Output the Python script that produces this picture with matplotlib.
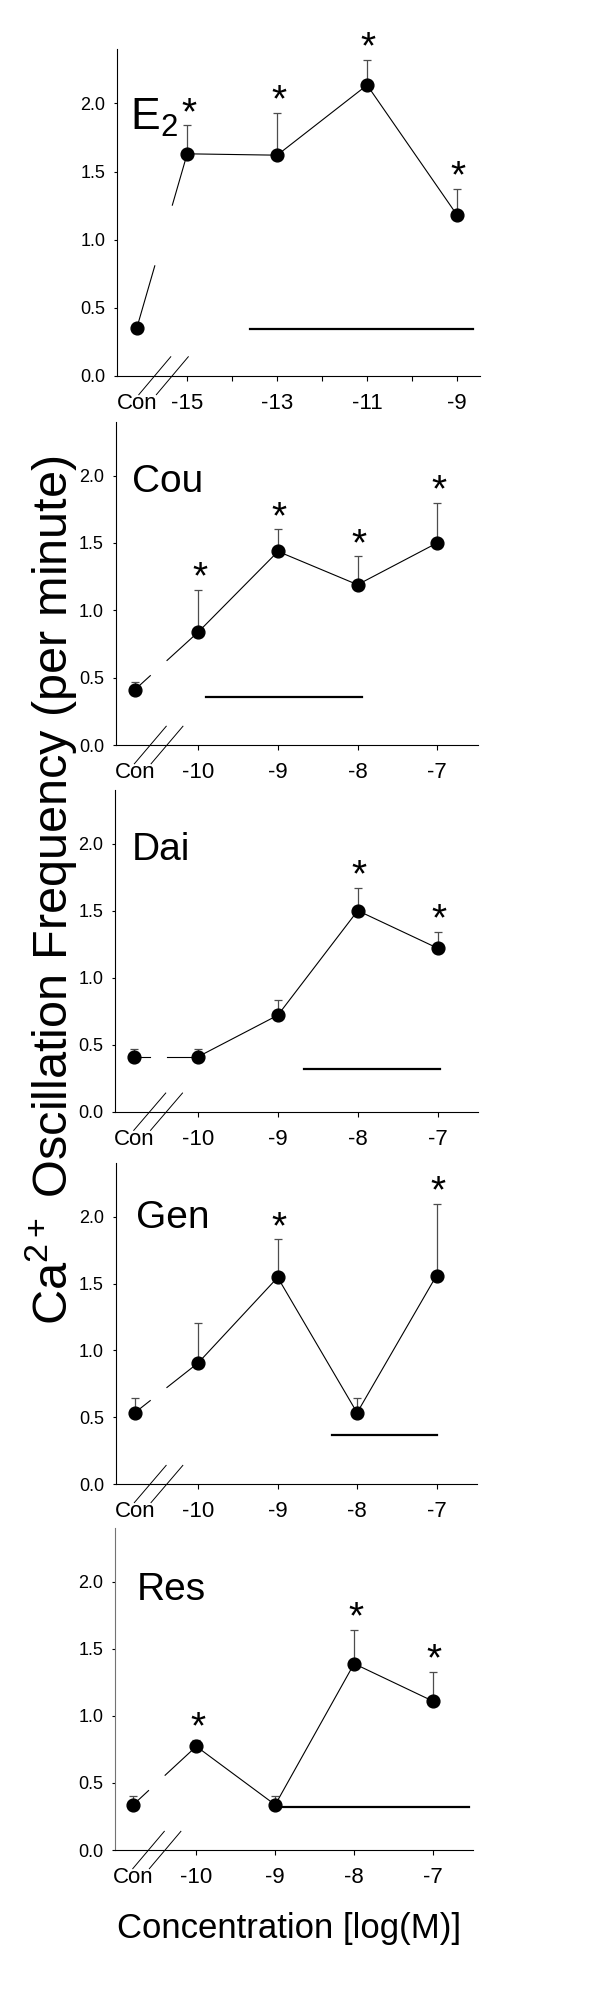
import numpy as np
import matplotlib
matplotlib.use("Agg")
import matplotlib.pyplot as plt

plt.rcParams['font.family'] = ['Liberation Sans', 'DejaVu Sans']
plt.rcParams['mathtext.fontset'] = 'custom'
plt.rcParams['mathtext.rm'] = 'Liberation Sans'
plt.rcParams['mathtext.it'] = 'Liberation Sans'
plt.rcParams['mathtext.default'] = 'regular'

# data (log M concentrations, mean and upper SEM)
names = ["E$_2$", "Cou", "Dai", "Gen", "Res"]

e2_conc = [-15, -13, -11, -9]
phyto_conc = [-10, -9, -8, -7]

e2_mean = [0.35, 1.63, 1.62, 2.135, 1.18]
e2_sem = [0.02, 0.21, 0.31, 0.185, 0.195]
e2_sig = [False, True, True, True, True]

cou_mean = [0.41, 0.84, 1.437, 1.19, 1.50]
cou_sem = [0.06, 0.31, 0.163, 0.21, 0.30]
cou_sig = [False, True, True, True, True]

dai_mean = [0.41, 0.41, 0.72, 1.50, 1.22]
dai_sem = [0.06, 0.06, 0.115, 0.17, 0.12]
dai_sig = [False, False, False, True, True]

gen_mean = [0.533, 0.907, 1.546, 0.533, 1.56]
gen_sem = [0.112, 0.30, 0.284, 0.112, 0.534]
gen_sig = [False, False, True, False, True]

res_mean = [0.337, 0.773, 0.337, 1.39, 1.11]
res_sem = [0.063, 0.047, 0.063, 0.25, 0.22]
res_sig = [False, True, False, True, True]

# horizontal reference bars (y, x start, x end)
e2_bar = (0.34, -13.61, -8.64)
cou_bar = (0.36, -9.9, -7.94)
dai_bar = (0.316, -8.67, -6.97)
gen_bar = (0.367, -8.31, -7.0)
res_bar = (0.324, -9.0, -6.54)

panels = [
    dict(name=names[0], conc=e2_conc, con=-16.12, mean=e2_mean, sem=e2_sem, sig=e2_sig, bar=e2_bar,
         xlim=(-16.56, -8.49), brk=(-15.72, -15.33), ticks=list(range(-15, -8)),
         box=(117, 480, 49, 375.7), lab=(0.035, 0.752), labsize=32, spine='black'),
    dict(name=names[1], conc=phyto_conc, con=-10.8, mean=cou_mean, sem=cou_sem, sig=cou_sig, bar=cou_bar,
         xlim=(-11.04, -6.49), brk=(-10.605, -10.395), ticks=phyto_conc,
         box=(115.7, 477.7, 421.7, 745), lab=(0.045, 0.783), labsize=28, spine='black'),
    dict(name=names[2], conc=phyto_conc, con=-10.8, mean=dai_mean, sem=dai_sem, sig=dai_sig, bar=dai_bar,
         xlim=(-11.04, -6.49), brk=(-10.605, -10.395), ticks=phyto_conc,
         box=(115, 478.3, 790, 1111.7), lab=(0.045, 0.782), labsize=28, spine='black'),
    dict(name=names[3], conc=phyto_conc, con=-10.8, mean=gen_mean, sem=gen_sem, sig=gen_sig, bar=gen_bar,
         xlim=(-11.04, -6.49), brk=(-10.605, -10.395), ticks=phyto_conc,
         box=(115.7, 477, 1163.3, 1484), lab=(0.055, 0.797), labsize=28, spine='black'),
    dict(name=names[4], conc=phyto_conc, con=-10.8, mean=res_mean, sem=res_sem, sig=res_sig, bar=res_bar,
         xlim=(-11.03, -6.49), brk=(-10.605, -10.395), ticks=phyto_conc,
         box=(115, 473.3, 1528.3, 1850), lab=(0.062, 0.777), labsize=28, spine='0.45'),
]

W, H = 600, 2001
fig = plt.figure(figsize=(W / 100, H / 100), dpi=100)

for p in panels:
    l, r, t, b = p['box']
    ax = fig.add_axes([l / W, 1 - b / H, (r - l) / W, (b - t) / H])
    x = np.array([p['con']] + list(p['conc']), dtype=float)
    y = np.array(p['mean'])
    sem = np.array(p['sem'])

    # error bars (upper only)
    ax.errorbar(x, y, yerr=[np.zeros_like(sem), sem], fmt='none', ecolor='0.3',
                elinewidth=0.9, capsize=2.8, capthick=0.9, zorder=2)

    # connecting line, broken between control and first dose
    b1, b2 = p['brk']
    y_b1 = np.interp(b1, x[:2], y[:2])
    y_b2 = np.interp(b2, x[:2], y[:2])
    ax.plot([x[0], b1], [y[0], y_b1], color='black', lw=0.8, zorder=3)
    ax.plot([b2, x[1]], [y_b2, y[1]], color='black', lw=0.8, zorder=3)
    ax.plot(x[1:], y[1:], color='black', lw=0.8, zorder=3)
    ax.plot(x, y, 'o', color='black', ms=9.2, zorder=4)

    # significance stars
    for xi, yi, si, sg in zip(x, y, sem, p['sig']):
        if sg:
            ax.annotate('*', (xi, yi + si), xytext=(1, 1), textcoords='offset points',
                        ha='center', va='baseline', fontsize=28, annotation_clip=False)

    # reference bar
    yb, xb0, xb1 = p['bar']
    ax.plot([xb0, xb1], [yb, yb], color='black', lw=1.6, zorder=3)

    # axis-break marks
    x0, x1 = p['xlim']
    for xb in (b1, b2):
        f = (xb - x0) / (x1 - x0)
        ax.plot([f - 0.044, f + 0.044], [-0.058, 0.058], transform=ax.transAxes,
                color='black', lw=0.7, clip_on=False)

    ax.set_xlim(x0, x1)
    ax.set_ylim(0, 2.4)
    ax.set_yticks([0, 0.5, 1.0, 1.5, 2.0])
    ax.set_yticklabels(['0.0', '0.5', '1.0', '1.5', '2.0'])
    xt = [p['con']] + p['ticks']
    xl = ['Con'] + [str(v) if v in p['conc'] else '' for v in p['ticks']]
    ax.set_xticks(xt)
    ax.set_xticklabels(xl)
    ax.xaxis.get_major_ticks()[0].tick1line.set_visible(False)
    ax.tick_params(axis='y', direction='out', length=2.5, width=0.8, labelsize=13, pad=6)
    ax.tick_params(axis='x', direction='out', length=3.5, width=0.8, labelsize=16, pad=9)
    for s in ('top', 'right'):
        ax.spines[s].set_visible(False)
    ax.spines['bottom'].set_linewidth(0.8)
    ax.spines['left'].set_linewidth(0.8)
    ax.spines['left'].set_color(p['spine'])

    ax.text(p['lab'][0], p['lab'][1], p['name'], transform=ax.transAxes,
            fontsize=p['labsize'], ha='left', va='baseline')

fig.text(51 / W, 1 - 890 / H, 'Ca$^{2+}$ Oscillation Frequency (per minute)',
         rotation=90, ha='center', va='center', fontsize=35)
fig.text(289 / W, 1 - 1938.3 / H, 'Concentration [log(M)]', ha='center', va='baseline', fontsize=25)

fig.savefig('out.png', dpi=100)
